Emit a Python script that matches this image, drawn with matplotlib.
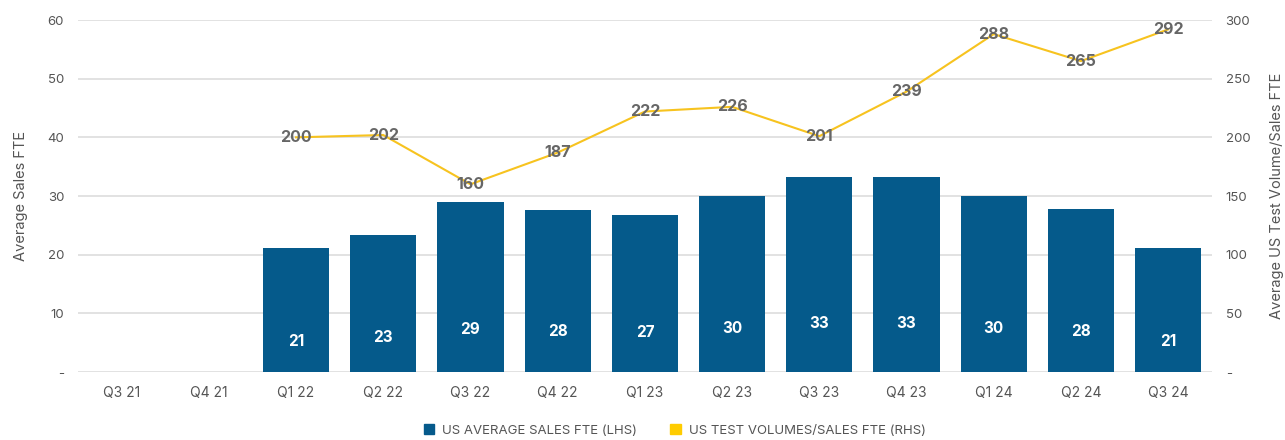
import numpy as np
import matplotlib.pyplot as plt
from matplotlib.patches import Patch

plt.rcParams['font.family'] = ['Inter', 'DejaVu Sans']

quarters = ['Q3 21', 'Q4 21', 'Q1 22', 'Q2 22', 'Q3 22', 'Q4 22', 'Q1 23',
            'Q2 23', 'Q3 23', 'Q4 23', 'Q1 24', 'Q2 24', 'Q3 24']
sales_fte = [np.nan, np.nan, 21.1, 23.4, 29.0, 27.7, 26.8, 30.0, 33.2, 33.2, 30.0, 27.8, 21.1]
sales_labels = ['', '', '21', '23', '29', '28', '27', '30', '33', '33', '30', '28', '21']
volume_per_fte = [np.nan, np.nan, 200, 202, 160, 187, 222, 226, 201, 239, 288, 265, 292]

bar_color = '#055a8b'
line_color = '#f7c31f'
text_gray = '#555555'

fig = plt.figure(figsize=(12.85, 4.4), dpi=100)
ax = fig.add_axes([0.0607, 0.1545, 0.8823, 0.8])
ax2 = ax.twinx()

x = np.arange(len(quarters))
ax.bar(x, sales_fte, width=0.76, color=bar_color, zorder=2)
for xi, v, lab in zip(x, sales_fte, sales_labels):
    if lab:
        ax.text(xi, v * 0.25, lab, ha='center', va='center', color='white',
                fontsize=11, fontweight='bold', zorder=3)

ax.set_ylim(0, 60)
ax.set_xlim(-0.5, len(quarters) - 0.5)
ax.set_yticks(range(0, 61, 10))
ax.set_yticklabels(['-'] + [str(t) for t in range(10, 61, 10)])
ax.set_xticks(x)
ax.set_xticklabels(quarters)
ax.grid(axis='y', color='#dddddd', linewidth=1.2, zorder=0)
ax.set_axisbelow(True)
ax.set_ylabel('Average Sales FTE', color=text_gray, fontsize=10.5, labelpad=14)

ax2.plot(x, volume_per_fte, color=line_color, linewidth=1.5, zorder=4)
for xi, v in zip(x, volume_per_fte):
    if not np.isnan(v):
        ax2.text(xi, v, str(int(v)), ha='center', va='center', color='#666666',
                 fontsize=11.5, fontweight='bold', zorder=5)
ax2.set_ylim(0, 300)
ax2.set_yticks(range(0, 301, 50))
ax2.set_yticklabels(['-'] + [str(t) for t in range(50, 301, 50)])
ax2.set_ylabel('Average US Test Volume/Sales FTE', color=text_gray, fontsize=10.5, labelpad=14)

for a in (ax, ax2):
    for s in a.spines.values():
        s.set_visible(False)
    a.tick_params(length=0, colors=text_gray, labelsize=9.5)
ax.tick_params(axis='x', pad=10, labelsize=10)
ax.tick_params(axis='y', pad=10)
ax2.tick_params(axis='y', pad=10)

handles = [Patch(color=bar_color), Patch(color='#ffcc00')]
fig.legend(handles, ['US AVERAGE SALES FTE (LHS)', 'US TEST VOLUMES/SALES FTE (RHS)'],
           loc='lower center', bbox_to_anchor=(0.525, -0.02), ncol=2, frameon=False,
           fontsize=9.5, labelcolor=text_gray, handlelength=0.8, handleheight=0.8,
           columnspacing=2.5, handletextpad=0.6)

fig.savefig('out.png', dpi=100)
